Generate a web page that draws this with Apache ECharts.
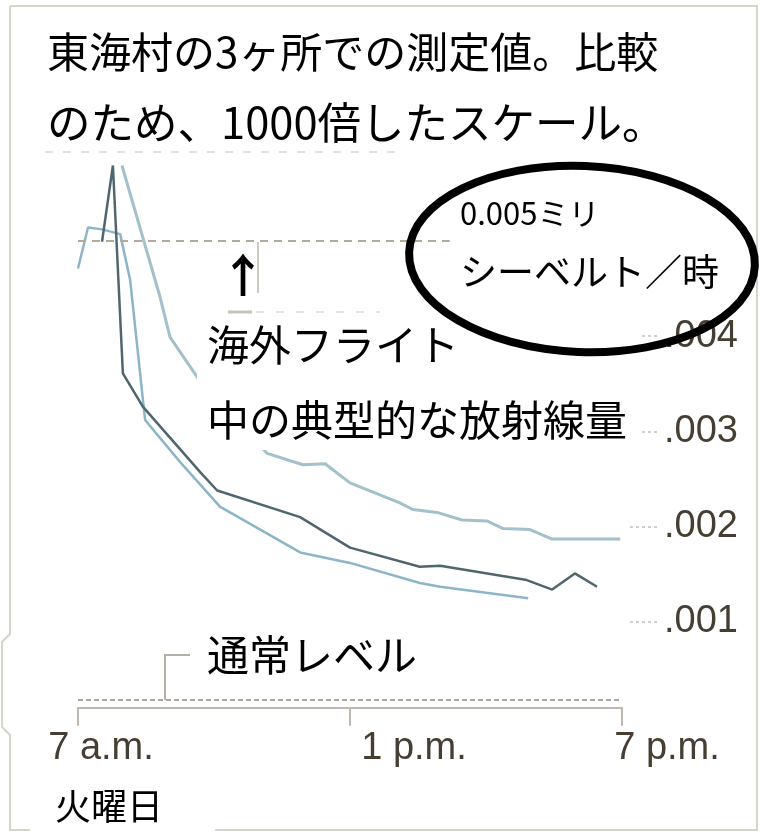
<!DOCTYPE html>
<html>
<head>
<meta charset="utf-8">
<script src="https://cdn.jsdelivr.net/npm/echarts@6/dist/echarts.min.js"></script>
<style>html,body{margin:0;padding:0;background:#fff}#c{width:769px;height:836px}</style>
</head>
<body>
<div id="c"></div>
<script>
// hours after 7 a.m., values in mSv/h x1000 scale
const hoursB  = [0, 0.22, 0.53, 0.93, 1.15, 1.41, 1.48, 2.25, 3.13, 4.90, 6.00, 7.54, 7.99, 9.93];
const valuesB = [0.00471, 0.00514, 0.00512, 0.00507, 0.00459, 0.00343, 0.00312, 0.00268, 0.00221, 0.00173, 0.00162, 0.00141, 0.00137, 0.00125];

const hoursC  = [0.97, 1.81, 2.03, 2.63, 4.17, 4.96, 5.45, 6.00, 7.10, 7.39, 7.92, 8.47, 9.02, 9.38, 9.97, 10.46, 11.96];
const valuesC = [0.00579, 0.00441, 0.00399, 0.00357, 0.00277, 0.00265, 0.00266, 0.00246, 0.00225, 0.00218, 0.00215, 0.00207, 0.00206, 0.00198, 0.00197, 0.00187, 0.00187];

const hoursD  = [0.53, 0.77, 0.99, 1.43, 2.70, 3.07, 4.90, 6.00, 7.54, 7.99, 9.90, 10.46, 10.96, 11.45];
const valuesD = [0.00499, 0.00579, 0.00361, 0.00326, 0.00257, 0.00238, 0.00210, 0.00178, 0.00158, 0.00159, 0.00144, 0.00134, 0.00151, 0.00137];

const xTickLabels = ['7 a.m.', '1 p.m.', '7 p.m.'];
const yTickValues = [0.001, 0.002, 0.003, 0.004];
const yTickLabels = ['.001', '.002', '.003', '.004'];

const flightLevel = 0.005;
const normalLevel = 0.00018;

const titleLines = ['東海村の3ヶ所での測定値。比較', 'のため、1000倍したスケール。'];
const flightLines = ['海外フライト', '中の典型的な放射線量'];
const flightValueLines = ['0.005ミリ', 'シーベルト／時'];
const normalText = '通常レベル';
const dayText = '火曜日';

const pairs = (xs, ys) => xs.map((x, i) => [x, ys[i]]);
const JP = "'Noto Sans CJK JP', sans-serif";
const LAT = "'Liberation Sans', Arial, sans-serif";

const chart = echarts.init(document.getElementById('c'), null, {renderer: 'canvas'});
chart.setOption({
  backgroundColor: '#fff',
  animation: false,
  grid: {left: 78, right: 147, top: 145.5, bottom: 118.7, containLabel: false},
  xAxis: {
    type: 'value', min: 0, max: 12, interval: 6, offset: -9.5,
    splitLine: {show: false},
    axisLine: {show: true, onZero: false, lineStyle: {color: '#bdb8b0', width: 2}},
    axisTick: {show: true, length: 18, inside: false, lineStyle: {color: '#bdb8b0', width: 2}},
    axisLabel: {
      show: true, margin: 22, showMinLabel: true, showMaxLabel: true,
      formatter: (v, i) => '{l' + i + '|' + xTickLabels[i] + '}',
      rich: {
        l0: {fontFamily: LAT, fontSize: 38, color: '#463e32', padding: [0, 0, 0, 46]},
        l1: {fontFamily: LAT, fontSize: 38, color: '#463e32', padding: [0, 0, 0, 128]},
        l2: {fontFamily: LAT, fontSize: 38, color: '#463e32', padding: [0, 0, 0, 90]}
      }
    }
  },
  yAxis: {
    type: 'value', position: 'right', min: 0, max: 0.006, interval: 0.001, offset: 8,
    splitLine: {show: false},
    axisLine: {show: false, onZero: false},
    axisTick: {show: true, length: 30, inside: false, customValues: yTickValues,
      lineStyle: {color: '#c4c0b8', width: 1.5, type: [3, 3]}},
    axisLabel: {
      show: true, margin: 34, customValues: yTickValues,
      fontFamily: LAT, fontSize: 38, color: '#463e32',
      formatter: v => {
        const i = yTickValues.findIndex(t => Math.abs(t - v) < 1e-9);
        return i >= 0 ? yTickLabels[i] : '';
      }
    }
  },
  series: [
    {
      type: 'line', data: pairs(hoursB, valuesB), showSymbol: false, z: 3,
      lineStyle: {color: '#8db5c9', width: 2.5},
      markLine: {
        silent: true, symbol: 'none', label: {show: false},
        data: [
          [{coord: [0, flightLevel], lineStyle: {color: '#b3aa9c', width: 2, type: [8, 6]}},
           {coord: [8.2, flightLevel]}],
          [{coord: [0, normalLevel], lineStyle: {color: '#aaa59d', width: 2, type: [5, 3]}},
           {coord: [12, normalLevel]}]
        ]
      }
    },
    {type: 'line', data: pairs(hoursC, valuesC), showSymbol: false, z: 3,
      lineStyle: {color: '#a3c0cb', width: 3}},
    {type: 'line', data: pairs(hoursD, valuesD), showSymbol: false, z: 4,
      lineStyle: {color: '#50666f', width: 2.5}}
  ],
  graphic: [
    {type: 'polyline', z: 1, shape: {points: [[10,6],[757,6],[757,830],[10,830],[10,735],[2,727],[2,642],[10,634],[10,6]]},
      style: {stroke: '#d8d4cc', lineWidth: 2, fill: null}},
    {type: 'line', z: 1, shape: {x1: 45, y1: 152, x2: 400, y2: 152}, style: {stroke: '#e4e2de', lineWidth: 2, lineDash: [8, 10]}},
    {type: 'text', z: 60, style: {text: titleLines[0], x: 47, y: 52, fontFamily: JP, fontSize: 42, fill: '#000', verticalAlign: 'middle'}},
    {type: 'text', z: 60, style: {text: titleLines[1], x: 47, y: 122, fontFamily: JP, fontSize: 43.5, fill: '#000', verticalAlign: 'middle'}},
    {type: 'line', z: 10, shape: {x1: 258, y1: 242, x2: 258, y2: 293}, style: {stroke: '#cdc9c1', lineWidth: 2}},
    {type: 'line', z: 10, shape: {x1: 228, y1: 312, x2: 252, y2: 312}, style: {stroke: '#c9c4ba', lineWidth: 3}},
    {type: 'line', z: 10, shape: {x1: 256, y1: 312, x2: 380, y2: 312}, style: {stroke: '#e6e4e0', lineWidth: 2, lineDash: [8, 12]}},
    {type: 'text', z: 60, style: {text: '↑', x: 243, y: 275, fontFamily: JP, fontSize: 46, fontWeight: 'bold', fill: '#000', align: 'center', verticalAlign: 'middle'}},
    {type: 'rect', z: 50, shape: {x: 197, y: 318, width: 443, height: 132}, style: {fill: '#fff'}},
    {type: 'text', z: 60, style: {text: flightLines[0], x: 207, y: 345, fontFamily: JP, fontSize: 42, fill: '#000', verticalAlign: 'middle'}},
    {type: 'text', z: 60, style: {text: flightLines[1], x: 207, y: 420, fontFamily: JP, fontSize: 42, fill: '#000', verticalAlign: 'middle'}},
    {type: 'rect', z: 50, shape: {x: 452, y: 185, width: 285, height: 112}, style: {fill: '#fff'}},
    {type: 'text', z: 60, style: {text: flightValueLines[0], x: 460, y: 213, fontFamily: JP, fontSize: 31, fill: '#000', verticalAlign: 'middle'}},
    {type: 'text', z: 60, style: {text: flightValueLines[1], x: 460, y: 272, fontFamily: JP, fontSize: 37, fill: '#000', verticalAlign: 'middle'}},
    {type: 'ellipse', z: 70, rotation: -0.04, originX: 582, originY: 259, shape: {cx: 582, cy: 259, rx: 173, ry: 93},
      style: {stroke: '#000', lineWidth: 8, fill: null}},
    {type: 'polyline', z: 10, shape: {points: [[165,700],[165,655],[190,655]]}, style: {stroke: '#b5b0a8', lineWidth: 2, fill: null}},
    {type: 'text', z: 60, style: {text: normalText, x: 207, y: 655, fontFamily: JP, fontSize: 42, fill: '#000', verticalAlign: 'middle'}},
    {type: 'rect', z: 50, shape: {x: 30, y: 778, width: 185, height: 58}, style: {fill: '#fff'}},
    {type: 'text', z: 60, style: {text: dayText, x: 55, y: 806, fontFamily: JP, fontSize: 36, fill: '#000', verticalAlign: 'middle'}}
  ]
});
</script>
</body>
</html>
